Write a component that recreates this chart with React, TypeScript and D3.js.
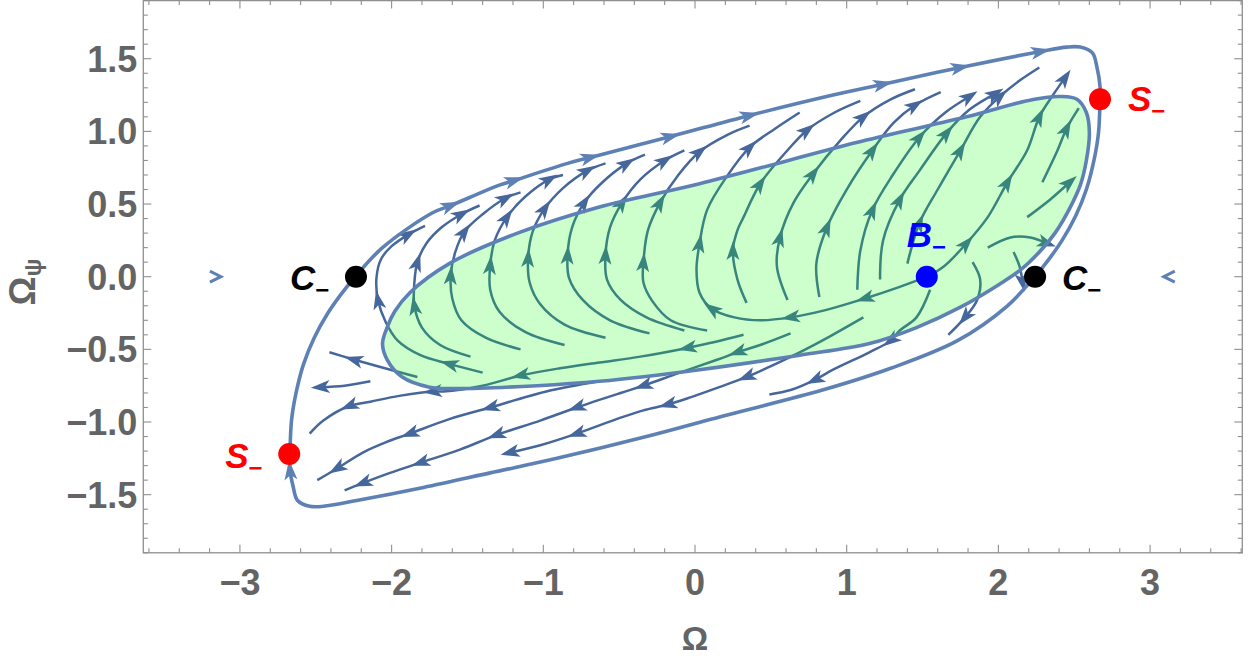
import React from "react";
import * as d3 from "d3";

type P = number[];

const xTicks = [-3, -2, -1, 0, 1, 2, 3];
const yTicks = [-1.5, -1.0, -0.5, 0.0, 0.5, 1.0, 1.5];

// outer separatrix (third value 1 = arrowhead at that point)
const outerBoundary: P[] = [
  [-2.24, 0.0], [-2.06, 0.2], [-1.73, 0.44], [-1.61, 0.49, 1], [-1.29, 0.63], [-1.19, 0.663, 1],
  [-0.84, 0.78], [-0.69, 0.821, 1], [-0.16, 0.965, 1], [0.36, 1.11, 1], [0.91, 1.25],
  [1.24, 1.325, 1], [1.75, 1.44, 1], [2.28, 1.55, 1], [2.45, 1.58], [2.54, 1.58], [2.62, 1.54],
  [2.65, 1.44], [2.67, 1.31], [2.67, 1.22], [2.66, 0.99], [2.63, 0.8], [2.58, 0.6], [2.51, 0.42],
  [2.42, 0.25], [2.34, 0.13], [2.24, 0.0], [2.06, -0.2], [1.73, -0.44], [1.29, -0.63], [0.84, -0.78],
  [0.18, -0.96], [-0.32, -1.1], [-0.91, -1.25], [-1.35, -1.35], [-1.79, -1.45], [-2.23, -1.54],
  [-2.45, -1.58], [-2.54, -1.58], [-2.62, -1.54], [-2.65, -1.44], [-2.67, -1.33, 1], [-2.67, -1.22],
  [-2.66, -0.99], [-2.63, -0.8], [-2.58, -0.6], [-2.51, -0.42], [-2.42, -0.25], [-2.34, -0.13],
];

// shaded basin
const basinRegion: P[] = [
  [2.41, 1.24], [2.52, 1.22], [2.58, 1.13], [2.6, 0.99], [2.58, 0.8], [2.54, 0.63], [2.47, 0.47],
  [2.38, 0.31], [2.27, 0.17], [2.15, 0.05], [2.01, -0.05], [1.75, -0.21], [1.46, -0.35], [1.15, -0.46],
  [0.69, -0.54], [0.03, -0.64], [-0.63, -0.72], [-1.04, -0.75], [-1.6, -0.77], [-1.75, -0.76],
  [-1.93, -0.69], [-2.03, -0.57], [-2.06, -0.46], [-2.03, -0.35], [-1.98, -0.24], [-1.88, -0.11],
  [-1.62, 0.09], [-1.17, 0.3], [-0.63, 0.48], [0.03, 0.64], [1.13, 0.94], [1.79, 1.1], [2.23, 1.22],
];

const streamL1: P[] = [[-1.40, -0.66], [-1.62, -0.60, 1], [-1.81, -0.54], [-1.96, -0.44], [-2.04, -0.31], [-2.09, -0.16, 1], [-2.10, -0.01], [-2.07, 0.12], [-2.00, 0.21], [-1.89, 0.29, 1], [-1.78, 0.35]];
const streamL2: P[] = [[-1.48, -0.55], [-1.68, -0.47], [-1.80, -0.35], [-1.85, -0.20, 1], [-1.85, -0.04], [-1.83, 0.10, 1], [-1.77, 0.23], [-1.67, 0.34], [-1.54, 0.43, 1], [-1.42, 0.49]];
const streamL3: P[] = [[-1.15, -0.50], [-1.38, -0.42], [-1.54, -0.30], [-1.60, -0.15], [-1.61, 0.01, 1], [-1.58, 0.17], [-1.52, 0.31, 1], [-1.40, 0.43], [-1.25, 0.54, 1], [-1.15, 0.58]];
const streamL4: P[] = [[-0.86, -0.47], [-1.12, -0.38], [-1.29, -0.24], [-1.35, -0.09], [-1.35, 0.08, 1], [-1.32, 0.25], [-1.24, 0.41, 1], [-1.12, 0.55], [-0.96, 0.67, 1], [-0.87, 0.70]];
const streamL5: P[] = [[-0.59, -0.42], [-0.86, -0.33], [-1.02, -0.19], [-1.09, -0.04], [-1.10, 0.13, 1], [-1.07, 0.31], [-0.99, 0.47, 1], [-0.87, 0.61], [-0.71, 0.73, 1], [-0.59, 0.78]];
const streamL6: P[] = [[-0.30, -0.39], [-0.56, -0.30], [-0.74, -0.16], [-0.83, -0.01], [-0.84, 0.15, 1], [-0.81, 0.34], [-0.73, 0.51, 1], [-0.61, 0.65], [-0.45, 0.78, 1], [-0.33, 0.84]];
const streamL7: P[] = [[-0.07, -0.37], [-0.32, -0.28], [-0.49, -0.16], [-0.58, -0.02], [-0.59, 0.15, 1], [-0.56, 0.34], [-0.48, 0.51, 1], [-0.36, 0.67], [-0.20, 0.80, 1], [-0.07, 0.87]];
const streamL8: P[] = [[0.08, -0.37], [-0.16, -0.30], [-0.28, -0.17], [-0.34, -0.04], [-0.34, 0.10, 1], [-0.31, 0.32], [-0.23, 0.51, 1], [-0.11, 0.70], [0.03, 0.86, 1], [0.22, 0.98], [0.36, 1.04]];
const streamL9: P[] = [[1.53, 0.0], [1.35, -0.07], [1.12, -0.15, 1], [0.86, -0.23], [0.63, -0.28, 1], [0.43, -0.30], [0.26, -0.28], [0.11, -0.22, 1], [0.03, -0.11], [0.01, 0.05], [0.03, 0.23, 1], [0.08, 0.46], [0.21, 0.69], [0.36, 0.89, 1], [0.53, 1.02], [0.69, 1.13]];
const streamL10: P[] = [[0.34, -0.18], [0.28, -0.02], [0.25, 0.18, 1], [0.28, 0.32], [0.32, 0.41], [0.43, 0.64, 1], [0.61, 0.87], [0.74, 1.01, 1], [0.92, 1.13], [1.09, 1.21]];
const streamL11: P[] = [[0.61, -0.16], [0.54, 0.07], [0.56, 0.27, 1], [0.65, 0.51], [0.78, 0.71, 1], [0.96, 0.94], [1.11, 1.10, 1], [1.29, 1.22], [1.45, 1.29]];
const streamL12: P[] = [[0.82, -0.14], [0.80, 0.09], [0.87, 0.34, 1], [1.00, 0.60], [1.17, 0.87, 1], [1.31, 1.06], [1.45, 1.18, 1], [1.62, 1.27]];
const streamL13: P[] = [[1.07, -0.09], [1.09, 0.18], [1.17, 0.46, 1], [1.31, 0.71], [1.48, 0.96, 1], [1.65, 1.13], [1.81, 1.24, 1]];
const streamL14: P[] = [[1.22, -0.02], [1.24, 0.25], [1.35, 0.53, 1], [1.48, 0.73], [1.66, 0.99, 1], [1.81, 1.15], [1.98, 1.26, 1]];
const streamL15: P[] = [[1.40, 0.09], [1.48, 0.37, 1], [1.60, 0.60], [1.75, 0.87, 1], [1.88, 1.10], [2.01, 1.24, 1], [2.14, 1.35], [2.27, 1.44]];
const streamL16: P[] = [[1.53, 0.0], [1.64, 0.07], [1.79, 0.23, 1], [1.93, 0.41], [2.06, 0.65, 1], [2.19, 0.87], [2.27, 1.10, 1], [2.36, 1.25], [2.44, 1.37, 1]];
const streamL17: P[] = [[2.19, 0.41], [2.34, 0.53], [2.47, 0.65, 1]];
const streamL18: P[] = [[2.29, 0.65], [2.39, 0.87], [2.45, 1.02, 1], [2.53, 1.16]];
const streamR1: P[] = [[1.93, 0.20], [2.08, 0.27], [2.21, 0.27], [2.32, 0.23, 1]];
const streamR2: P[] = [[2.10, 0.17], [2.14, 0.07], [2.16, -0.04, 1]];
const streamR3: P[] = [[1.83, 0.10], [1.88, -0.02], [1.86, -0.16], [1.78, -0.28, 1], [1.67, -0.40]];
const streamR5: P[] = [[1.55, -0.09], [1.46, -0.28], [1.35, -0.37], [1.29, -0.44, 1], [1.15, -0.52], [0.91, -0.64], [0.79, -0.71, 1], [0.63, -0.78], [0.49, -0.81]];
const streamD1: P[] = [[1.11, -0.28], [0.89, -0.41], [0.69, -0.52], [0.49, -0.62], [0.34, -0.69, 1], [0.16, -0.76], [-0.03, -0.83], [-0.18, -0.88, 1], [-0.34, -0.92], [-0.49, -0.97], [-0.78, -1.08, 1], [-1.02, -1.16], [-1.22, -1.21, 1]];
const streamD2: P[] = [[-0.63, -0.72], [-0.98, -0.79], [-1.35, -0.90, 1], [-1.62, -0.98], [-1.88, -1.08, 1], [-2.04, -1.14], [-2.19, -1.21], [-2.36, -1.32, 1], [-2.49, -1.40]];
const streamD3: P[] = [[0.63, -0.39], [0.43, -0.47], [0.28, -0.52, 1], [0.15, -0.57], [-0.10, -0.66], [-0.34, -0.75, 1], [-0.49, -0.80], [-0.78, -0.90, 1], [-1.02, -0.99], [-1.31, -1.09, 1], [-1.55, -1.19], [-1.81, -1.28, 1], [-2.01, -1.35], [-2.19, -1.42, 1], [-2.31, -1.47]];
const streamG1: P[] = [[0.32, -0.40], [0.13, -0.45], [-0.05, -0.49, 1], [-0.36, -0.55], [-0.63, -0.59], [-0.89, -0.63], [-1.15, -0.68, 1], [-1.40, -0.75], [-1.66, -0.79], [-1.73, -0.79, 1], [-1.95, -0.82], [-2.14, -0.86], [-2.28, -0.89, 1], [-2.45, -0.99], [-2.54, -1.08]];
const streamS1: P[] = [[-1.83, -0.69], [-2.08, -0.62], [-2.25, -0.57, 1], [-2.41, -0.52]];
const streamS2: P[] = [[-2.14, -0.72], [-2.31, -0.75], [-2.47, -0.76, 1]];

const streamlines: P[][] = [
  streamL1, streamL2, streamL3, streamL4, streamL5, streamL6, streamL7, streamL8, streamL9,
  streamL10, streamL11, streamL12, streamL13, streamL14, streamL15, streamL16, streamL17, streamL18,
  streamR1, streamR2, streamR3, streamR5, streamD1, streamD2, streamD3, streamG1, streamS1, streamS2,
];

// isolated arrowheads outside the separatrix: [x, y, direction]
const sideArrows: P[] = [[-3.165, 0, 1], [3.13, 0, -1]];

const pointNames = ["S", "S", "C", "C", "B"];
const pointX = [2.67, -2.675, -2.235, 2.242, 1.528];
const pointY = [1.221, -1.22, 0, 0, 0];
const pointKinds = ["saddle", "saddle", "center", "center", "source"];

const kindColor: Record<string, string> = { saddle: "#ff0000", center: "#000000", source: "#0000ff" };
const labelOffsets = [[28, 12], [-64, 14], [-66, 13], [27, 13], [-20, -30]];

const STREAM = "#45679b";
const EDGE = "#5E81B5";
const FONT = "'Liberation Sans', Arial, Helvetica, sans-serif";

export default function App() {
  const W = 1250, H = 661;
  const x = d3.scaleLinear().domain([-3.637, 3.608]).range([143.3, 1242.3]);
  const y = d3.scaleLinear().domain([-1.9, 1.9]).range([552.8, 0.6]);
  const [x0, x1] = x.range();
  const [y0, y1] = y.range();

  const lineGen = d3.line<P>().x(d => x(d[0])).y(d => y(d[1])).curve(d3.curveCatmullRom.alpha(0.5));
  const closedGen = d3.line<P>().x(d => x(d[0])).y(d => y(d[1])).curve(d3.curveCatmullRomClosed.alpha(0.5));

  const arrowsFor = (pts: P[], closed: boolean) => {
    const out: { cx: number; cy: number; ang: number }[] = [];
    const n = pts.length;
    pts.forEach((p, i) => {
      if (p[2] !== 1) return;
      const prev = i > 0 ? pts[i - 1] : closed ? pts[n - 1] : p;
      const next = i < n - 1 ? pts[i + 1] : closed ? pts[0] : p;
      const dx = x(next[0]) - x(prev[0]);
      const dy = y(next[1]) - y(prev[1]);
      out.push({ cx: x(p[0]), cy: y(p[1]), ang: (Math.atan2(dy, dx) * 180) / Math.PI });
    });
    return out;
  };
  const arrowPath = (L: number, Wd: number) =>
    `M${L * 0.5},0 L${-L * 0.5},${Wd / 2} L${-L * 0.25},0 L${-L * 0.5},${-Wd / 2} Z`;

  const xMinor = d3.range(-36, 37, 2).map(v => v / 10);
  const yMinor = d3.range(-19, 20, 1).map(v => v / 10);
  const fmtY = (v: number) => (v < 0 ? "\u2212" : "") + Math.abs(v).toFixed(1);
  const fmtX = (v: number) => (v < 0 ? "\u2212" : "") + Math.abs(v).toString();

  const frameColor = "#8f8f8f";
  const tickText = "#646464";

  return (
    <svg width={W} height={H} style={{ position: "absolute", left: 0, top: 0, background: "#fff" }}>
      <rect x={0} y={0} width={W} height={H} fill="#fff" />
      {/* streamlines */}
      <g>
        {streamlines.map((s, i) => (
          <path key={"s" + i} d={lineGen(s) || ""} fill="none" stroke={STREAM} strokeWidth={2.5} />
        ))}
        {streamlines.flatMap((s, i) =>
          arrowsFor(s, false).map((a, j) => (
            <path key={"a" + i + "-" + j} d={arrowPath(19, 13)} fill={STREAM}
              transform={`translate(${a.cx},${a.cy}) rotate(${a.ang})`} />
          ))
        )}
      </g>
      {/* shaded basin overlay */}
      <path d={closedGen(basinRegion) || ""} fill="rgba(0,255,0,0.2)" stroke="none" />
      <path d={closedGen(basinRegion) || ""} fill="none" stroke={EDGE} strokeWidth={3.6} />
      {/* outer separatrix */}
      <path d={closedGen(outerBoundary) || ""} fill="none" stroke={EDGE} strokeWidth={3.6} />
      {arrowsFor(outerBoundary, true).map((a, j) => (
        <path key={"o" + j} d={arrowPath(20, 13)} fill={EDGE}
          transform={`translate(${a.cx},${a.cy}) rotate(${a.ang})`} />
      ))}
      {sideArrows.map((a, j) => (
        <path key={"side" + j} d="M-5,-5.5 L6,0 L-5,5.5" fill="none" stroke={EDGE} strokeWidth={3}
          strokeLinejoin="miter"
          transform={`translate(${x(a[0])},${y(a[1])}) rotate(${a[2] > 0 ? 0 : 180})`} />
      ))}
      {/* fixed points */}
      {pointX.map((px, i) => (
        <g key={"p" + i}>
          <circle cx={x(px)} cy={y(pointY[i])} r={11} fill={kindColor[pointKinds[i]]} />
          <text x={x(px) + labelOffsets[i][0]} y={y(pointY[i]) + labelOffsets[i][1]}
            fontFamily={FONT} fontWeight="bold" fontStyle="italic" fontSize={35}
            fill={kindColor[pointKinds[i]]}>
            {pointNames[i]}
            <tspan fontSize={24} dy={8} fontStyle="normal">{"\u2212"}</tspan>
          </text>
        </g>
      ))}
      {/* frame */}
      <rect x={x0} y={y1} width={x1 - x0} height={y0 - y1} fill="none" stroke={frameColor} strokeWidth={1.3} />
      {xMinor.map((v, i) => {
        const major = xTicks.some(t => Math.abs(t - v) < 1e-6);
        const len = major ? 8 : 4.5;
        return (
          <g key={"xt" + i} stroke={frameColor} strokeWidth={1.1}>
            <line x1={x(v)} x2={x(v)} y1={y0} y2={y0 - len} />
            <line x1={x(v)} x2={x(v)} y1={y1} y2={y1 + len} />
          </g>
        );
      })}
      {yMinor.map((v, i) => {
        const major = yTicks.some(t => Math.abs(t - v) < 1e-6);
        const len = major ? 8 : 4.5;
        return (
          <g key={"yt" + i} stroke={frameColor} strokeWidth={1.1}>
            <line x1={x0} x2={x0 + len} y1={y(v)} y2={y(v)} />
            <line x1={x1} x2={x1 - len} y1={y(v)} y2={y(v)} />
          </g>
        );
      })}
      {xTicks.map((v, i) => (
        <text key={"xl" + i} x={x(v)} y={595} textAnchor="middle" fontFamily={FONT}
          fontWeight="bold" fontSize={36} fill={tickText}>{fmtX(v)}</text>
      ))}
      {yTicks.map((v, i) => (
        <text key={"yl" + i} x={x0 - 6} y={y(v) + 13} textAnchor="end" fontFamily={FONT}
          fontWeight="bold" fontSize={36} fill={tickText}>{fmtY(v)}</text>
      ))}
      <text x={x(0)} y={650} textAnchor="middle" fontFamily={FONT} fontWeight="bold" fontSize={33} fill={tickText}>Ω</text>
      <text transform="translate(35,282) rotate(-90)" textAnchor="middle" fontFamily={FONT}
        fontWeight="bold" fontSize={36} fill={tickText}>
        Ω<tspan fontSize={24} dy={6}>ψ</tspan>
      </text>
    </svg>
  );
}
